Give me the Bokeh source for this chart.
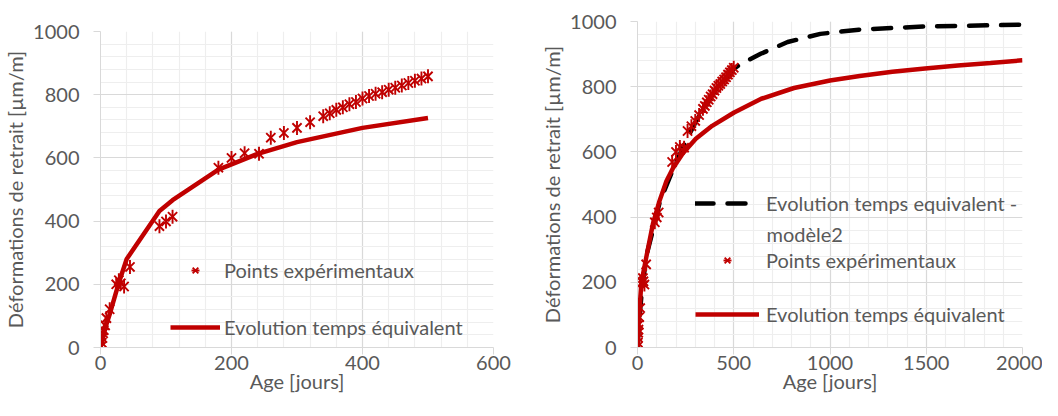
import numpy as np
from bokeh.plotting import figure
from bokeh.layouts import row, column
from bokeh.models import (Range1d, FixedTicker, Legend, LegendItem, Label)
from bokeh.embed import file_html
from bokeh.resources import INLINE

# ---------------- data ----------------
# experimental points (same series on both charts)
exp_days = [1, 2, 3, 4, 5, 7, 9, 14, 24, 28, 31, 36, 45, 90, 100, 110,
            180, 200, 220, 242, 260, 280, 300, 320, 340, 350, 360, 370,
            380, 390, 400, 410, 420, 430, 440, 450, 460, 470, 480, 490, 500]
exp_strain = [3, 15, 30, 45, 55, 70, 93, 121, 200, 213, 203, 193, 255, 384, 399, 414,
              569, 600, 615, 613, 664, 679, 695, 713, 732, 741, 752, 760,
              770, 777, 788, 796, 803, 808, 816, 822, 829, 837, 844, 851, 858]

# "Evolution temps équivalent" - left chart
eq_days_left = [0, 7, 14, 28, 40, 90, 110, 180, 240, 300, 400, 500]
eq_strain_left = [0, 60, 105, 205, 280, 432, 466, 563, 613, 650, 695, 726]

# "Evolution temps équivalent" - right chart
eq_days_right = [0, 4, 12, 20, 46, 80, 114, 150, 184, 235, 303, 388, 502, 643, 813,
                 1000, 1154, 1324, 1494, 1664, 1834, 2000]
eq_strain_right = [0, 58, 128, 198, 278, 379, 449, 510, 550, 595, 640, 680, 721, 763, 796,
                   819, 833, 846, 856, 865, 873, 881]

# "Evolution temps equivalent - modèle2" - right chart
m2_days = [0, 10, 25, 50, 80, 115, 190, 250, 300, 400, 500, 540, 640, 780, 950, 1150, 1500, 2000]
m2_strain = [0, 90, 190, 290, 360, 445, 555, 630, 690, 785, 855, 871, 901, 937, 962, 975, 985, 990]

# ticks
y_ticks = [0, 200, 400, 600, 800, 1000]
y_minor = [0, 40, 80, 120, 160, 200, 240, 280, 320, 360, 400, 440, 480, 520, 560, 600,
           640, 680, 720, 760, 800, 840, 880, 920, 960, 1000]
x_ticks_left = [0, 200, 400, 600]
x_minor_left = [0, 40, 80, 120, 160, 200, 240, 280, 320, 360, 400, 440, 480, 520, 560, 600]
x_ticks_right = [0, 500, 1000, 1500, 2000]
x_minor_right = [0, 100, 200, 300, 400, 500, 600, 700, 800, 900, 1000, 1100, 1200, 1300,
                 1400, 1500, 1600, 1700, 1800, 1900, 2000]

RED = "#C00000"
TXT = "#595959"
FONT = "Lato"
FS = "20px"
H = 400


def make_fig(width, mbl, mbr, mbt, mbb, xmax, xt, xm):
    p = figure(width=width, height=H, x_range=Range1d(0, xmax), y_range=Range1d(0, 1000),
               output_backend="svg", toolbar_location=None,
               min_border_left=mbl, min_border_right=mbr, min_border_top=mbt, min_border_bottom=mbb)
    p.outline_line_color = None
    p.xaxis.ticker = FixedTicker(ticks=xt, minor_ticks=xm)
    p.yaxis.ticker = FixedTicker(ticks=y_ticks, minor_ticks=y_minor)
    for ax in (p.xaxis[0], p.yaxis[0]):
        ax.axis_line_color = "#D9D9D9"
        ax.major_tick_line_color = "#D9D9D9"
        ax.major_tick_out = 7
        ax.major_tick_in = 0
        ax.minor_tick_line_color = None
        ax.major_label_text_font = FONT
        ax.major_label_text_font_size = FS
        ax.major_label_text_color = TXT
        ax.axis_label_text_font = FONT
        ax.axis_label_text_font_size = FS
        ax.axis_label_text_color = TXT
        ax.axis_label_text_font_style = "normal"
    p.xaxis.major_label_standoff = 1
    p.xaxis.axis_label_standoff = -4
    p.yaxis.major_label_standoff = 14
    p.yaxis.axis_label_standoff = 3
    p.xaxis.axis_label = "Age [jours]"
    p.yaxis.axis_label = "Déformations de retrait [µm/m]"
    for g in (p.xgrid[0], p.ygrid[0]):
        g.grid_line_color = "#D9D9D9"
        g.grid_line_width = 1.2
        g.minor_grid_line_color = "#EEEEEE"
        g.minor_grid_line_width = 1.2
    return p


def stars(p, x, y):
    r1 = p.scatter(x, y, marker="x", size=13, line_color=RED, line_width=1.9)
    r2 = p.scatter(x, y, marker="dash", size=14, angle=np.pi / 2, line_color=RED, line_width=1.9)
    return [r1, r2]


def leg(p, label, renderers, loc, gw, standoff):
    lg = Legend(items=[LegendItem(label=label, renderers=renderers)], location=loc,
                border_line_color=None, background_fill_alpha=0, padding=0, margin=0, spacing=0,
                glyph_width=gw, glyph_height=20, label_height=20, label_standoff=standoff,
                label_text_font=FONT, label_text_font_size=FS, label_text_color=TXT)
    p.add_layout(lg)


# ---------------- left chart ----------------
p1 = make_fig(530, 98, 37, 31, 53, 600, x_ticks_left, x_minor_left)
s1 = stars(p1, exp_days, exp_strain)
l1 = p1.line(eq_days_left, eq_strain_left, line_color=RED, line_width=4.5)
leg(p1, "Points expérimentaux", s1, (70, 65), 50, 4)
leg(p1, "Evolution temps équivalent", [l1], (70, 8), 50, 4)

# ---------------- right chart ----------------
p2 = make_fig(512, 107, 20, 21, 53, 2000, x_ticks_right, x_minor_right)
d2 = p2.line(m2_days, m2_strain, line_color="black", line_width=4.5, line_dash="18 14", line_cap="round")
s2 = stars(p2, exp_days, exp_strain)
l2 = p2.line(eq_days_right, eq_strain_right, line_color=RED, line_width=4.5)
leg(p2, "Evolution temps equivalent -", [d2], (58, 132), 64, 7)
p2.add_layout(Label(x=129, y=114, x_units="screen", y_units="screen", text="modèle2",
                    text_font=FONT, text_font_size=FS, text_color=TXT, text_baseline="middle"))
leg(p2, "Points expérimentaux", s2, (58, 75), 64, 7)
leg(p2, "Evolution temps équivalent", [l2], (58, 21), 64, 7)

layout = row(column(p1), column(p2))
open("out.html", "w").write(file_html(layout, INLINE))
